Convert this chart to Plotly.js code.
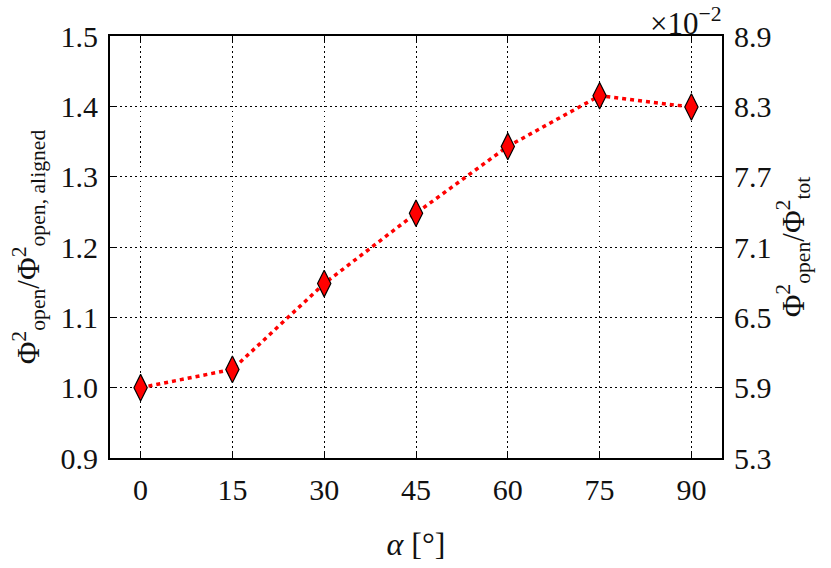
<!DOCTYPE html>
<html>
<head>
<meta charset="utf-8">
<script src="https://cdn.plot.ly/plotly-3.0.1.min.js"></script>
<style>
  html, body { margin: 0; padding: 0; background: white; }
  #chart { width: 831px; height: 568px; }
</style>
</head>
<body>
<div id="chart"></div>
<script>
// misalignment angle (deg) and normalised open flux
const alpha = [0, 15, 30, 45, 60, 75, 90];
const openRatio = [1.000, 1.026, 1.148, 1.248, 1.343, 1.415, 1.399];

const leftTicks = [0.9, 1.0, 1.1, 1.2, 1.3, 1.4, 1.5];
const rightTicks = [5.3, 5.9, 6.5, 7.1, 7.7, 8.3, 8.9];

const FONT = 'Liberation Serif, DejaVu Serif, serif';

const line = {
  type: 'scatter',
  mode: 'lines+markers',
  x: alpha,
  y: openRatio,
  line: { color: '#ff0000', width: 3.5, dash: '4px,4px' },
  marker: {
    symbol: 'diamond-tall',
    size: 19,
    color: '#ff0000',
    line: { color: 'black', width: 1.2 }
  },
  showlegend: false,
  hoverinfo: 'x+y'
};

// empty trace so the right-hand axis is drawn
const ghost = {
  type: 'scatter', x: [], y: [], yaxis: 'y2', showlegend: false, hoverinfo: 'skip'
};

const axisBase = {
  showline: true,
  linecolor: 'black',
  linewidth: 2,
  ticks: 'inside',
  ticklen: 5,
  tickwidth: 1,
  tickcolor: 'black',
  tickfont: { family: FONT, size: 30, color: '#111' },
  zeroline: false
};

const layout = {
  width: 831,
  height: 568,
  margin: { l: 110, r: 109, t: 36, b: 110 },
  paper_bgcolor: 'white',
  plot_bgcolor: 'white',
  font: { family: FONT, color: '#111' },
  xaxis: Object.assign({}, axisBase, {
    range: [-5, 95],
    tickvals: alpha,
    ticktext: alpha.map(String),
    mirror: 'ticks',
    showgrid: true,
    gridcolor: '#000',
    griddash: '1.5px,3.5px',
    gridwidth: 1,
    ticklabelstandoff: 4,
    title: { text: '<i>α</i> [°]', font: { family: FONT, size: 32, color: '#111' }, standoff: 28 }
  }),
  yaxis: Object.assign({}, axisBase, {
    range: [0.9, 1.5],
    tickvals: leftTicks,
    ticktext: leftTicks.map(v => v.toFixed(1)),
    showgrid: true,
    gridcolor: '#000',
    griddash: '1.5px,3.5px',
    gridwidth: 1,
    ticklabelstandoff: 4,
    title: {
      text: 'Φ<sup>2</sup><sub>open</sub>/Φ<sup>2</sup><sub>open, aligned</sub>',
      font: { family: FONT, size: 31, color: '#111' },
      standoff: 12
    }
  }),
  yaxis2: Object.assign({}, axisBase, {
    overlaying: 'y',
    side: 'right',
    range: [5.3, 8.9],
    tickvals: rightTicks,
    ticktext: rightTicks.map(v => v.toFixed(1)),
    showgrid: false,
    ticklabelstandoff: 4,
    title: {
      text: 'Φ<sup>2</sup><sub>open</sub>/Φ<sup>2</sup><sub>tot</sub>',
      font: { family: FONT, size: 31, color: '#111' },
      standoff: 8
    }
  }),
  annotations: [{
    xref: 'paper', yref: 'paper',
    x: 1, y: 1,
    xanchor: 'right', yanchor: 'bottom',
    showarrow: false,
    yshift: -7,
    xshift: 2,
    text: '×10<sup>−2</sup>',
    font: { family: FONT, size: 31, color: '#111' }
  }]
};

Plotly.newPlot('chart', [line, ghost], layout, { displayModeBar: false, staticPlot: true });
</script>
</body>
</html>
